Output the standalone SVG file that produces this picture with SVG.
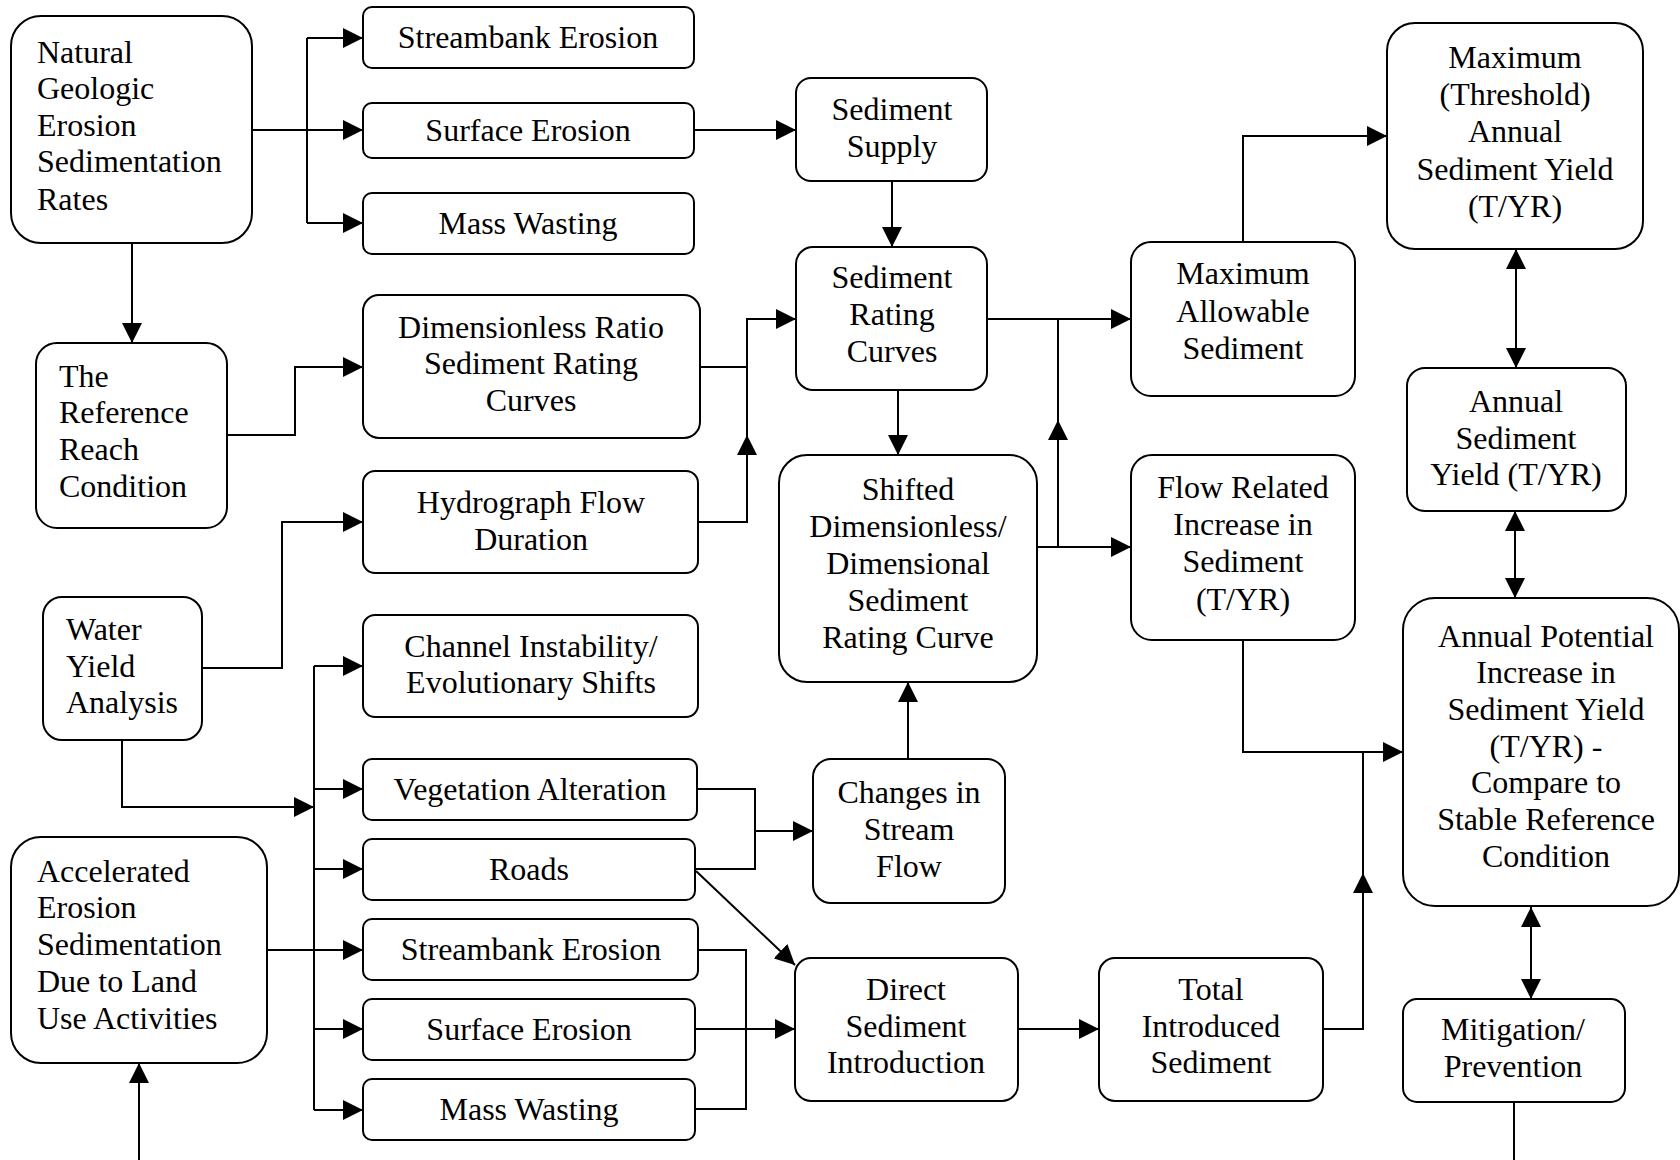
<svg xmlns="http://www.w3.org/2000/svg" width="1680" height="1160" viewBox="0 0 1680 1160">
<style>
.box{fill:#fff;stroke:#000;stroke-width:2}
.t{font-family:"Liberation Serif","Times New Roman",serif;font-size:32px;fill:#000}
.c{text-anchor:middle}
#connectors path{fill:none;stroke:#000;stroke-width:2}
</style>
<defs>
<marker id="ah" markerUnits="userSpaceOnUse" markerWidth="20" markerHeight="20" refX="20" refY="10" orient="auto-start-reverse" viewBox="0 0 20 20">
<path d="M0,0 L20,10 L0,20 z" fill="#000"/>
</marker>
</defs>
<rect width="1680" height="1160" fill="#fff"/>

<g id="connectors">
<path d="M252,130 H363" marker-end="url(#ah)"/>
<path d="M307,38 V223"/>
<path d="M307,38 H363" marker-end="url(#ah)"/>
<path d="M307,223 H363" marker-end="url(#ah)"/>
<path d="M132,243 V343" marker-end="url(#ah)"/>
<path d="M694,130 H796" marker-end="url(#ah)"/>
<path d="M892,181 V247" marker-end="url(#ah)"/>
<path d="M227,435 H295 V367 H363" marker-end="url(#ah)"/>
<path d="M700,367 H747 V319 H796" marker-end="url(#ah)"/>
<path d="M698,522 H747 V435" marker-end="url(#ah)"/>
<path d="M747,435 V367"/>
<path d="M987,319 H1131" marker-end="url(#ah)"/>
<path d="M1058,547 V420" marker-end="url(#ah)"/>
<path d="M1058,420 V319"/>
<path d="M1036,547 H1131" marker-end="url(#ah)"/>
<path d="M898,390 V455" marker-end="url(#ah)"/>
<path d="M908,759 V682" marker-end="url(#ah)"/>
<path d="M1243,242 V136 H1387" marker-end="url(#ah)"/>
<path d="M1516,249 V368" marker-start="url(#ah)" marker-end="url(#ah)"/>
<path d="M1515,511 V598" marker-start="url(#ah)" marker-end="url(#ah)"/>
<path d="M1243,640 V752 H1403" marker-end="url(#ah)"/>
<path d="M1323,1029 H1363 V873" marker-end="url(#ah)"/>
<path d="M1363,873 V752"/>
<path d="M1531,907 V999" marker-start="url(#ah)" marker-end="url(#ah)"/>
<path d="M1514,1102 V1160"/>
<path d="M202,668 H282 V522 H363" marker-end="url(#ah)"/>
<path d="M122,740 V807 H314" marker-end="url(#ah)"/>
<path d="M314,666 V1110"/>
<path d="M314,666 H363" marker-end="url(#ah)"/>
<path d="M314,789 H363" marker-end="url(#ah)"/>
<path d="M314,869 H363" marker-end="url(#ah)"/>
<path d="M267,950 H363" marker-end="url(#ah)"/>
<path d="M314,1029 H363" marker-end="url(#ah)"/>
<path d="M314,1110 H363" marker-end="url(#ah)"/>
<path d="M139,1160 V1063" marker-end="url(#ah)"/>
<path d="M697,789 H755 V869 H695"/>
<path d="M755,831 H813" marker-end="url(#ah)"/>
<path d="M696,871 L795,965" marker-end="url(#ah)"/>
<path d="M698,950 H746 V1109 H695"/>
<path d="M695,1029 H795" marker-end="url(#ah)"/>
<path d="M1018,1029 H1099" marker-end="url(#ah)"/>
</g>

<g id="natural">
<rect class="box" x="11" y="16" width="241" height="227" rx="30"/>
<text class="t"><tspan x="37" y="63">Natural</tspan><tspan x="37" y="99">Geologic</tspan><tspan x="37" y="136">Erosion</tspan><tspan x="37" y="172">Sedimentation</tspan><tspan x="37" y="210">Rates</tspan></text>
</g>
<g id="streambank1">
<rect class="box" x="363" y="7" width="331" height="61" rx="9"/>
<text class="t c" x="528" y="48">Streambank Erosion</text>
</g>
<g id="surface1">
<rect class="box" x="363" y="103" width="331" height="55" rx="9"/>
<text class="t c" x="528" y="141">Surface Erosion</text>
</g>
<g id="mass1">
<rect class="box" x="363" y="193" width="331" height="61" rx="9"/>
<text class="t c" x="528" y="234">Mass Wasting</text>
</g>
<g id="reference">
<rect class="box" x="36" y="343" width="191" height="185" rx="21"/>
<text class="t"><tspan x="59" y="387">The</tspan><tspan x="59" y="423">Reference</tspan><tspan x="59" y="460">Reach</tspan><tspan x="59" y="497">Condition</tspan></text>
</g>
<g id="dimensionless">
<rect class="box" x="363" y="295" width="337" height="143" rx="16"/>
<text class="t c"><tspan x="531" y="338">Dimensionless Ratio</tspan><tspan x="531" y="374">Sediment Rating</tspan><tspan x="531" y="411">Curves</tspan></text>
</g>
<g id="hydrograph">
<rect class="box" x="363" y="471" width="335" height="102" rx="12"/>
<text class="t c"><tspan x="531" y="513">Hydrograph Flow</tspan><tspan x="531" y="550">Duration</tspan></text>
</g>
<g id="wateryield">
<rect class="box" x="43" y="597" width="159" height="143" rx="19"/>
<text class="t"><tspan x="66" y="640">Water</tspan><tspan x="66" y="677">Yield</tspan><tspan x="66" y="713">Analysis</tspan></text>
</g>
<g id="channel">
<rect class="box" x="363" y="615" width="335" height="102" rx="12"/>
<text class="t c"><tspan x="531" y="657">Channel Instability/</tspan><tspan x="531" y="693">Evolutionary Shifts</tspan></text>
</g>
<g id="vegetation">
<rect class="box" x="363" y="759" width="334" height="61" rx="9"/>
<text class="t c" x="530" y="800">Vegetation Alteration</text>
</g>
<g id="roads">
<rect class="box" x="363" y="839" width="332" height="61" rx="9"/>
<text class="t c" x="529" y="880">Roads</text>
</g>
<g id="streambank2">
<rect class="box" x="363" y="919" width="335" height="61" rx="9"/>
<text class="t c" x="531" y="960">Streambank Erosion</text>
</g>
<g id="surface2">
<rect class="box" x="363" y="999" width="332" height="61" rx="9"/>
<text class="t c" x="529" y="1040">Surface Erosion</text>
</g>
<g id="mass2">
<rect class="box" x="363" y="1079" width="332" height="61" rx="9"/>
<text class="t c" x="529" y="1120">Mass Wasting</text>
</g>
<g id="accelerated">
<rect class="box" x="11" y="837" width="256" height="226" rx="30"/>
<text class="t"><tspan x="37" y="882">Accelerated</tspan><tspan x="37" y="918">Erosion</tspan><tspan x="37" y="955">Sedimentation</tspan><tspan x="37" y="992">Due to Land</tspan><tspan x="37" y="1029">Use Activities</tspan></text>
</g>
<g id="supply">
<rect class="box" x="796" y="78" width="191" height="103" rx="15"/>
<text class="t c"><tspan x="892" y="120">Sediment</tspan><tspan x="892" y="157">Supply</tspan></text>
</g>
<g id="rating">
<rect class="box" x="796" y="247" width="191" height="143" rx="17"/>
<text class="t c"><tspan x="892" y="288">Sediment</tspan><tspan x="892" y="325">Rating</tspan><tspan x="892" y="362">Curves</tspan></text>
</g>
<g id="shifted">
<rect class="box" x="779" y="455" width="258" height="227" rx="28"/>
<text class="t c"><tspan x="908" y="500">Shifted</tspan><tspan x="908" y="537">Dimensionless/</tspan><tspan x="908" y="574">Dimensional</tspan><tspan x="908" y="611">Sediment</tspan><tspan x="908" y="648">Rating Curve</tspan></text>
</g>
<g id="changes">
<rect class="box" x="813" y="759" width="192" height="144" rx="18"/>
<text class="t c"><tspan x="909" y="803">Changes in</tspan><tspan x="909" y="840">Stream</tspan><tspan x="909" y="877">Flow</tspan></text>
</g>
<g id="direct">
<rect class="box" x="795" y="958" width="223" height="143" rx="16"/>
<text class="t c"><tspan x="906" y="1000">Direct</tspan><tspan x="906" y="1037">Sediment</tspan><tspan x="906" y="1073">Introduction</tspan></text>
</g>
<g id="total">
<rect class="box" x="1099" y="958" width="224" height="143" rx="16"/>
<text class="t c"><tspan x="1211" y="1000">Total</tspan><tspan x="1211" y="1037">Introduced</tspan><tspan x="1211" y="1073">Sediment</tspan></text>
</g>
<g id="maxallowable">
<rect class="box" x="1131" y="242" width="224" height="154" rx="20"/>
<text class="t c"><tspan x="1243" y="284">Maximum</tspan><tspan x="1243" y="322">Allowable</tspan><tspan x="1243" y="359">Sediment</tspan></text>
</g>
<g id="flowrelated">
<rect class="box" x="1131" y="455" width="224" height="185" rx="21"/>
<text class="t c"><tspan x="1243" y="498">Flow Related</tspan><tspan x="1243" y="535">Increase in</tspan><tspan x="1243" y="572">Sediment</tspan><tspan x="1243" y="610">(T/YR)</tspan></text>
</g>
<g id="threshold">
<rect class="box" x="1387" y="23" width="256" height="226" rx="28"/>
<text class="t c"><tspan x="1515" y="68">Maximum</tspan><tspan x="1515" y="105">(Threshold)</tspan><tspan x="1515" y="142">Annual</tspan><tspan x="1515" y="180">Sediment Yield</tspan><tspan x="1515" y="217">(T/YR)</tspan></text>
</g>
<g id="annualyield">
<rect class="box" x="1407" y="368" width="219" height="143" rx="18"/>
<text class="t c"><tspan x="1516" y="412">Annual</tspan><tspan x="1516" y="449">Sediment</tspan><tspan x="1516" y="485">Yield (T/YR)</tspan></text>
</g>
<g id="annualpotential">
<rect class="box" x="1403" y="598" width="276" height="308" rx="32"/>
<text class="t c"><tspan x="1546" y="647">Annual Potential</tspan><tspan x="1546" y="683">Increase in</tspan><tspan x="1546" y="720">Sediment Yield</tspan><tspan x="1546" y="757">(T/YR) -</tspan><tspan x="1546" y="793">Compare to</tspan><tspan x="1546" y="830">Stable Reference</tspan><tspan x="1546" y="867">Condition</tspan></text>
</g>
<g id="mitigation">
<rect class="box" x="1403" y="999" width="222" height="103" rx="14"/>
<text class="t c"><tspan x="1513" y="1040">Mitigation/</tspan><tspan x="1513" y="1077">Prevention</tspan></text>
</g>
</svg>
